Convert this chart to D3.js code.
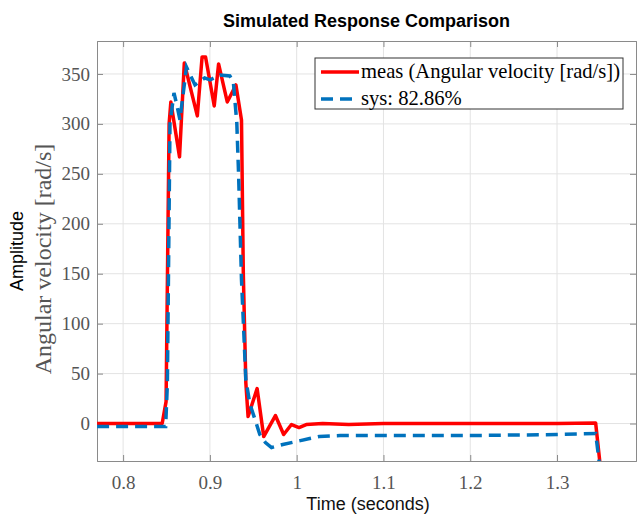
<!DOCTYPE html>
<html>
<head>
<meta charset="utf-8">
<script src="https://cdn.jsdelivr.net/npm/d3@7"></script>
<style>
  body { margin: 0; background: #fff; }
  svg { display: block; }
</style>
</head>
<body>
<div id="chart"></div>
<script>
// measured output (time in s, angular velocity in rad/s)
var measT = [0.77, 0.845, 0.8495, 0.853, 0.855, 0.865, 0.8705, 0.8855, 0.891, 0.895, 0.905, 0.910, 0.920, 0.930, 0.9364,
  0.9385, 0.9414, 0.944, 0.9544, 0.962, 0.9755, 0.985, 0.994, 1.0027, 1.011, 1.03, 1.06, 1.1, 1.15, 1.2, 1.25, 1.3, 1.3445, 1.352];
var measV = [0, 0, 22, 300, 322, 267, 361, 308, 367, 367, 318, 360, 322, 339, 304,
  150, 41, 7, 35, -13, 8, -11, -1, -4, -1, 0, -1, 0, 0, 0, 0, 0, 0.5, -60];

// simulated model output
var sysT = [0.77, 0.849, 0.851, 0.854, 0.8586, 0.8624, 0.8655, 0.873, 0.8828, 0.894, 0.900, 0.9115, 0.923, 0.927, 0.931, 0.933,
  0.9364, 0.9414, 0.946, 0.952, 0.9575, 0.964, 0.971, 0.984, 0.9996, 1.015, 1.026, 1.05, 1.1, 1.2, 1.3, 1.3445, 1.351];
var sysV = [-3, -3, 40, 300, 331, 317, 304, 357, 339, 346, 344, 349, 348, 342, 301, 251,
  144, 44, 20, 4, -11, -19, -24, -21, -18, -15, -13, -12, -12, -12, -11, -10, -55];

var xTicks = [0.8, 0.9, 1, 1.1, 1.2, 1.3];
var yTicks = [0, 50, 100, 150, 200, 250, 300, 350];
var legendLabels = ["meas (Angular velocity [rad/s])", "sys: 82.86%"];

var W = 639, H = 514;
var margin = { top: 41, right: 3, bottom: 53, left: 97 };
var iw = W - margin.left - margin.right;
var ih = H - margin.top - margin.bottom;

var x = d3.scaleLinear().domain([0.7699, 1.391]).range([0, iw]);
var y = d3.scaleLinear().domain([-37.5, 383]).range([ih, 0]);

var svg = d3.select("#chart").append("svg")
  .attr("width", W).attr("height", H);

svg.append("defs").append("clipPath").attr("id", "clip")
  .append("rect").attr("width", iw).attr("height", ih);

var g = svg.append("g").attr("transform", `translate(${margin.left},${margin.top})`);

// grid
g.append("g").selectAll("line").data(xTicks).join("line")
  .attr("x1", d => x(d)).attr("x2", d => x(d))
  .attr("y1", 0).attr("y2", ih)
  .attr("stroke", "#e3e3e3").attr("stroke-width", 1);
g.append("g").selectAll("line").data(yTicks).join("line")
  .attr("y1", d => y(d)).attr("y2", d => y(d))
  .attr("x1", 0).attr("x2", iw)
  .attr("stroke", "#e3e3e3").attr("stroke-width", 1);

// axes (ticks inside, MATLAB box style)
var fmtX = d => d === 1 ? "1" : d3.format(".1f")(d);
var xAxis = g.append("g").attr("transform", `translate(0,${ih})`)
  .call(d3.axisBottom(x).tickValues(xTicks).tickSize(-6).tickPadding(15).tickFormat(fmtX));
var xTop = g.append("g")
  .call(d3.axisTop(x).tickValues(xTicks).tickSize(-6).tickFormat(""));
var yAxis = g.append("g")
  .call(d3.axisLeft(y).tickValues(yTicks).tickSize(-6).tickPadding(7));
var yRight = g.append("g").attr("transform", `translate(${iw},0)`)
  .call(d3.axisRight(y).tickValues(yTicks).tickSize(-6).tickFormat(""));

[xAxis, xTop, yAxis, yRight].forEach(a => {
  a.select(".domain").attr("stroke", "#8a8a8a").attr("stroke-width", 1);
  a.selectAll(".tick line").attr("stroke", "#8a8a8a");
  a.selectAll("text")
    .attr("font-family", "'Liberation Serif', 'DejaVu Serif', serif")
    .attr("font-size", 19)
    .attr("fill", "#555");
});

// lines
var line = d3.line().x(d => x(d[0])).y(d => y(d[1]));
var plot = g.append("g").attr("clip-path", "url(#clip)");

plot.append("path")
  .datum(measT.map((t, i) => [t, measV[i]]))
  .attr("fill", "none")
  .attr("stroke", "#ff0000")
  .attr("stroke-width", 3.5)
  .attr("stroke-linejoin", "round")
  .attr("d", line);

plot.append("path")
  .datum(sysT.map((t, i) => [t, sysV[i]]))
  .attr("fill", "none")
  .attr("stroke", "#0072bd")
  .attr("stroke-width", 3.5)
  .attr("stroke-dasharray", "12,7")
  .attr("d", line);

// legend
var lg = svg.append("g").attr("transform", "translate(315,58)");
lg.append("rect")
  .attr("width", 308).attr("height", 51)
  .attr("fill", "#fff").attr("stroke", "#333").attr("stroke-width", 1);
var styles = [{ c: "#ff0000", dash: null }, { c: "#0072bd", dash: "12,7" }];
legendLabels.forEach((lab, i) => {
  var ly = 14 + i * 27;
  lg.append("line")
    .attr("x1", 6).attr("x2", 44).attr("y1", ly).attr("y2", ly)
    .attr("stroke", styles[i].c).attr("stroke-width", 3.5)
    .attr("stroke-dasharray", styles[i].dash);
  lg.append("text")
    .attr("x", 46).attr("y", ly + 6)
    .attr("font-family", "'Liberation Serif', 'DejaVu Serif', serif")
    .attr("font-size", 20.6).attr("fill", "#000")
    .text(lab);
});

// title and labels
svg.append("text")
  .attr("x", margin.left + iw / 2).attr("y", 27)
  .attr("text-anchor", "middle")
  .attr("font-family", "'Liberation Sans', Arial, sans-serif")
  .attr("font-weight", "bold").attr("font-size", 18)
  .text("Simulated Response Comparison");

svg.append("text")
  .attr("x", 368).attr("y", 510)
  .attr("text-anchor", "middle")
  .attr("font-family", "'Liberation Sans', Arial, sans-serif")
  .attr("font-size", 18).attr("fill", "#111")
  .text("Time (seconds)");

svg.append("text")
  .attr("transform", "translate(23,251) rotate(-90)")
  .attr("text-anchor", "middle")
  .attr("font-family", "'Liberation Sans', Arial, sans-serif")
  .attr("font-size", 18).attr("fill", "#000")
  .text("Amplitude");

svg.append("text")
  .attr("transform", "translate(51,259) rotate(-90)")
  .attr("text-anchor", "middle")
  .attr("font-family", "'Liberation Serif', 'DejaVu Serif', serif")
  .attr("font-size", 24).attr("fill", "#555")
  .text("Angular velocity [rad/s]");
</script>
</body>
</html>
